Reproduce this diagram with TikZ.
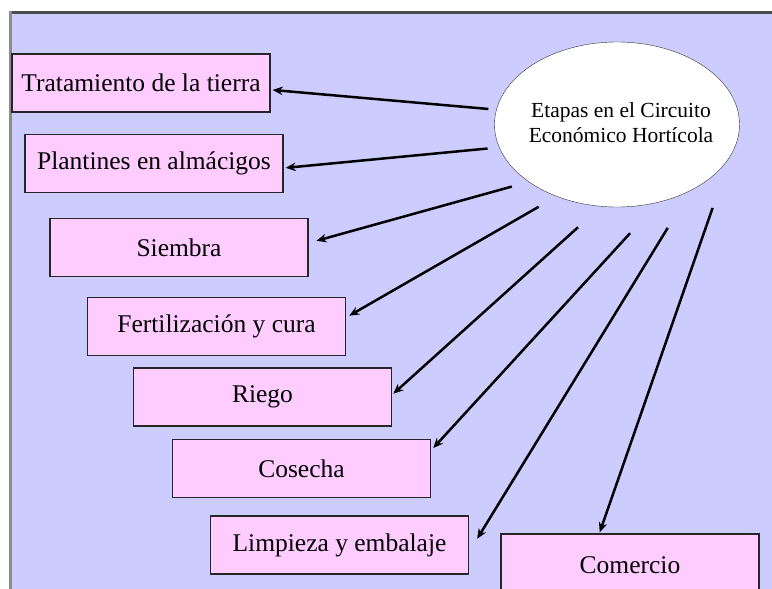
\documentclass[tikz,border=0pt]{standalone}
\usepackage{fontspec}
\setmainfont{Liberation Serif}
\usetikzlibrary{shapes.geometric,arrows.meta}
\definecolor{fondo}{HTML}{CCCCFF}
\definecolor{rosa}{HTML}{FFCCFF}

\begin{document}
\begin{tikzpicture}[>={Stealth[width=8.5pt,length=10pt]}, etapa/.style={draw=black!85, line width=1.4pt, fill=rosa, minimum width=258pt, minimum height=58pt, inner sep=0pt, font=\fontsize{25.5}{30}\selectfont}, flecha/.style={->, line width=2.5pt}]
  \useasboundingbox (0pt, 0pt) rectangle (772pt, -589pt);
  \clip (0pt, 0pt) rectangle (772pt, -589pt);
  \fill[fondo] (12pt, -13pt) rectangle (772pt, -589pt);
  \draw[black!70, line width=3pt] (9pt, -12.5pt) -- (772pt, -12.5pt);
  \draw[black!45, line width=3pt] (10.5pt, -11pt) -- (10.5pt, -589pt);
  % central ellipse
  \draw (617.0pt, -124.5pt)node[ellipse, draw=black!80, fill=white, minimum width=245pt, minimum height=165pt, inner sep=0pt](etapas){};
  \draw (621.0pt, -123.0pt)node[align=center, font=\fontsize{21.5}{25}\selectfont](titulo){Etapas en el Circuito\\Económico Hortícola};
  % stages
  \draw (141.0pt, -83.0pt)node[etapa](trat){Tratamiento de la tierra};
  \draw (154.0pt, -163.5pt)node[etapa](plan){Plantines en almácigos};
  \draw (179.0pt, -247.5pt)node[etapa](siem){Siembra};
  \draw (216.5pt, -326.5pt)node[etapa](fert){Fertilización y cura};
  \draw (262.5pt, -397.0pt)node[etapa](rieg){Riego};
  \draw (301.5pt, -468.5pt)node[etapa](cose){Cosecha};
  \draw (339.5pt, -545.0pt)node[etapa](limp){Limpieza y embalaje};
  \draw (630.0pt, -565.0pt)node[etapa, minimum height=62pt](come){Comercio};
  % arrows
  \path[flecha] (etapas.173.5) edge[shorten <=8pt, shorten >=2pt] (trat.-3.9);
  \path[flecha] (etapas.191.3) edge[shorten <=11.6pt, shorten >=2pt] (plan.-2.1);
  \path[flecha] (etapas.213.7) edge[shorten <=17.5pt, shorten >=8pt] (siem.2.9);
  \path[flecha] (etapas.230.8) edge[shorten <=20.7pt, shorten >=3.5pt] (fert.4.4);
  \path[flecha] (etapas.259.8) edge[shorten <=31pt, shorten >=1.5pt] (rieg.1.8);
  \path[flecha] (etapas.298) edge[shorten <=41.8pt, shorten >=3pt] (cose.8);
  \path[flecha] (etapas.318.9) edge[shorten <=43.6pt, shorten >=15.3pt] (limp.-3.5);
  \path[flecha] (etapas.345) edge[shorten <=56pt, shorten >=1pt] (come.134.06);
\end{tikzpicture}
\end{document}
